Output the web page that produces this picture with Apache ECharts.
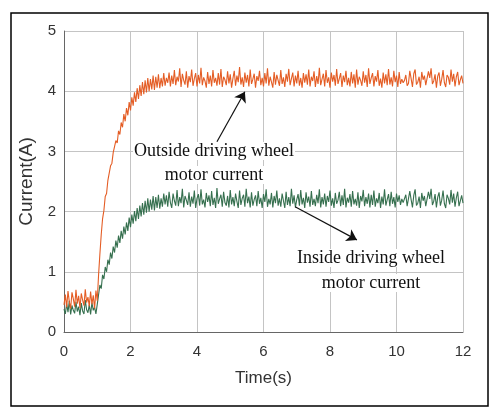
<!DOCTYPE html>
<html>
<head>
<meta charset="utf-8">
<script src="https://cdn.jsdelivr.net/npm/echarts@6/dist/echarts.min.js"></script>
<style>
  html, body { margin: 0; padding: 0; background: #fff; }
  #main { width: 499px; height: 417px; }
</style>
</head>
<body>
<div id="main"></div>
<script>
// sampling step of the recorded signals (s)
var dt = 0.04;

var outsideCurrent = [
  0.45,0.62,0.41,0.68,0.50,0.39,0.66,0.55,0.42,0.70,0.47,0.60,0.40,0.64,0.53,0.44,0.71,0.49,0.58,0.43,0.67,0.46,0.61,0.39,0.69,0.52,
  0.95,1.30,1.62,1.88,2.02,2.25,2.30,2.52,2.55,2.76,
  2.80,2.98,2.99,3.18,3.14,3.34,3.28,3.48,3.40,3.62,
  3.50,3.72,3.60,3.82,3.68,3.90,3.76,3.98,3.82,4.05,
  3.87,4.10,3.92,4.15,3.95,4.18,3.98,4.22,4.00,4.20,
  4.03,4.26,4.02,4.24,4.06,4.28,4.05,4.22,4.08,4.30,
  4.09,4.22,4.14,4.31,4.08,4.26,4.12,4.35,4.10,4.24,
  4.16,4.38,4.07,4.29,4.18,4.11,4.33,4.06,4.25,4.15,
  4.36,4.09,4.21,4.30,4.08,4.27,4.13,4.39,4.10,4.23,
  4.17,4.06,4.32,4.12,4.26,4.08,4.35,4.14,4.22,4.09,
  4.30,4.11,4.37,4.07,4.24,4.19,4.10,4.33,4.13,4.28,
  4.06,4.21,4.34,4.09,4.26,4.15,4.40,4.11,4.23,4.07,
  4.31,4.14,4.27,4.08,4.36,4.12,4.20,4.29,4.06,4.25,
  4.17,4.34,4.10,4.22,4.08,4.30,4.13,4.38,4.09,4.24,
  4.15,4.06,4.32,4.11,4.27,4.18,4.09,4.35,4.12,4.23,
  4.07,4.29,4.16,4.37,4.10,4.21,4.31,4.08,4.26,4.13,
  4.34,4.09,4.22,4.06,4.30,4.14,4.28,4.11,4.36,4.08,
  4.24,4.17,4.33,4.07,4.25,4.12,4.39,4.10,4.20,4.29,
  4.08,4.35,4.14,4.23,4.06,4.31,4.16,4.27,4.09,4.37,
  4.12,4.21,4.30,4.07,4.26,4.15,4.34,4.10,4.22,4.08,
  4.32,4.13,4.28,4.06,4.36,4.11,4.24,4.18,4.09,4.33,
  4.14,4.27,4.07,4.38,4.12,4.22,4.30,4.08,4.25,4.16,
  4.35,4.09,4.21,4.06,4.31,4.13,4.28,4.10,4.37,4.11,
  4.23,4.08,4.34,4.15,4.26,4.07,4.32,4.12,4.20,4.14,
  4.18,4.27,4.09,4.13,4.34,4.21,4.07,4.29,4.36,4.11,
  4.15,4.24,4.06,4.32,4.19,4.26,4.10,4.08,4.33,4.22,
  4.38,4.12,4.17,4.28,4.06,4.25,4.31,4.09,4.20,4.35,
  4.14,4.07,4.27,4.23,4.11,4.36,4.16,4.29,4.08,4.24,
  4.32,4.10,4.19,4.26,4.13
];

var insideCurrent = [
  0.38,0.30,0.47,0.33,0.52,0.29,0.44,0.36,0.31,0.50,0.34,0.42,0.28,0.48,0.35,0.30,0.53,0.37,0.32,0.45,0.29,0.49,0.36,0.41,0.30,0.46,
  0.62,0.78,0.72,0.95,0.88,1.08,1.00,1.20,1.12,1.32,
  1.22,1.42,1.32,1.52,1.40,1.60,1.48,1.68,1.55,1.75,
  1.62,1.82,1.68,1.90,1.74,1.95,1.80,2.01,1.84,2.06,
  1.88,2.10,1.92,2.14,1.95,2.18,1.98,2.22,2.00,2.20,
  2.03,2.26,2.02,2.24,2.06,2.28,2.05,2.22,2.08,2.30,
  2.12,2.27,2.08,2.33,2.15,2.06,2.30,2.18,2.10,2.36,
  2.09,2.24,2.14,2.38,2.07,2.26,2.19,2.11,2.32,2.08,
  2.25,2.13,2.35,2.06,2.22,2.29,2.10,2.37,2.12,2.20,
  2.07,2.31,2.16,2.27,2.09,2.34,2.11,2.23,2.06,2.39,
  2.13,2.21,2.28,2.08,2.33,2.15,2.10,2.26,2.07,2.36,
  2.12,2.24,2.09,2.30,2.17,2.06,2.35,2.11,2.22,2.28,
  2.08,2.38,2.14,2.25,2.07,2.32,2.10,2.20,2.27,2.09,
  2.34,2.13,2.23,2.06,2.29,2.16,2.37,2.08,2.21,2.12,
  2.31,2.07,2.26,2.14,2.35,2.10,2.22,2.08,2.30,2.18,
  2.06,2.33,2.11,2.24,2.09,2.38,2.13,2.27,2.07,2.20,
  2.29,2.10,2.36,2.12,2.23,2.06,2.32,2.15,2.25,2.08,
  2.34,2.11,2.21,2.09,2.28,2.14,2.37,2.07,2.24,2.12,
  2.30,2.08,2.26,2.16,2.35,2.10,2.22,2.06,2.31,2.13,
  2.19,2.33,2.09,2.27,2.11,2.38,2.07,2.23,2.15,2.29,
  2.08,2.34,2.12,2.21,2.10,2.32,2.06,2.26,2.17,2.36,
  2.09,2.24,2.13,2.30,2.07,2.28,2.11,2.35,2.08,2.22,
  2.14,2.31,2.06,2.25,2.12,2.37,2.10,2.20,2.29,2.09,
  2.33,2.13,2.24,2.07,2.30,2.16,2.27,2.11,2.21,2.15,
  2.16,2.28,2.09,2.12,2.34,2.20,2.07,2.27,2.37,2.10,
  2.14,2.25,2.06,2.31,2.18,2.26,2.09,2.08,2.33,2.21,
  2.38,2.11,2.17,2.29,2.07,2.24,2.32,2.10,2.19,2.35,
  2.13,2.06,2.28,2.22,2.12,2.36,2.15,2.30,2.08,2.23,
  2.33,2.09,2.18,2.27,2.14
];

// arrows: [start, end] in (time, current)
var outsideArrow = [[4.6, 3.16], [5.44, 3.99]];
var insideArrow = [[6.95, 2.08], [8.81, 1.53]];

function toPairs(arr) {
  var out = [];
  for (var i = 0; i < arr.length; i++) out.push([+(i * dt).toFixed(2), arr[i]]);
  return out;
}

var chart = echarts.init(document.getElementById('main'));
var labelFont = { fontFamily: 'Liberation Sans, Arial', fontSize: 15, color: '#333' };
var noteStyle = {
  fontFamily: 'Liberation Serif, Times New Roman', fontSize: 18, fill: '#111',
  textAlign: 'center', textVerticalAlign: 'middle', backgroundColor: '#fff', padding: [0, 1]
};

chart.setOption({
  animation: false,
  backgroundColor: '#fff',
  grid: { left: 64, right: 36, top: 31, bottom: 85 },
  xAxis: {
    type: 'value', min: 0, max: 12, interval: 2,
    name: 'Time(s)', nameLocation: 'middle', nameGap: 38,
    nameTextStyle: { fontFamily: 'Liberation Sans, Arial', fontSize: 17, color: '#333' },
    axisLine: { show: true, lineStyle: { color: '#666', width: 1 } },
    axisTick: { show: false },
    axisLabel: Object.assign({ margin: 12 }, labelFont),
    splitLine: { show: true, lineStyle: { color: '#c4c4c4', width: 1 } }
  },
  yAxis: {
    type: 'value', min: 0, max: 5, interval: 1,
    name: 'Current(A)', nameLocation: 'middle', nameGap: 18,
    nameTextStyle: { fontFamily: 'Liberation Sans, Arial', fontSize: 19, color: '#333' },
    axisLine: { show: true, lineStyle: { color: '#666', width: 1 } },
    axisTick: { show: false },
    axisLabel: Object.assign({ margin: 8 }, labelFont),
    splitLine: { show: true, lineStyle: { color: '#c4c4c4', width: 1 } }
  },
  series: [
    {
      name: 'Inside', type: 'line', showSymbol: false,
      data: toPairs(insideCurrent),
      lineStyle: { color: '#36704f', width: 1.1 },
      markLine: {
        silent: true, symbol: ['none', 'arrow'], symbolSize: 10,
        label: { show: false },
        lineStyle: { color: '#111', width: 1.2, type: 'solid' },
        data: [[{ coord: insideArrow[0] }, { coord: insideArrow[1] }]]
      }
    },
    {
      name: 'Outside', type: 'line', showSymbol: false,
      data: toPairs(outsideCurrent),
      lineStyle: { color: '#e45d25', width: 1.1 },
      markLine: {
        silent: true, symbol: ['none', 'arrow'], symbolSize: 10,
        label: { show: false },
        lineStyle: { color: '#111', width: 1.2, type: 'solid' },
        data: [[{ coord: outsideArrow[0] }, { coord: outsideArrow[1] }]]
      }
    }
  ],
  graphic: [
    { type: 'rect', shape: { x: 11, y: 13, width: 477, height: 393 }, style: { fill: 'none', stroke: '#000', lineWidth: 1.5 }, silent: true },
    { type: 'text', x: 214, y: 151, z: 10, style: Object.assign({ text: 'Outside driving wheel' }, noteStyle) },
    { type: 'text', x: 214, y: 175, z: 10, style: Object.assign({ text: 'motor current' }, noteStyle) },
    { type: 'text', x: 371, y: 258, z: 10, style: Object.assign({ text: 'Inside driving wheel' }, noteStyle) },
    { type: 'text', x: 371, y: 283, z: 10, style: Object.assign({ text: 'motor current' }, noteStyle) }
  ]
});
</script>
</body>
</html>
